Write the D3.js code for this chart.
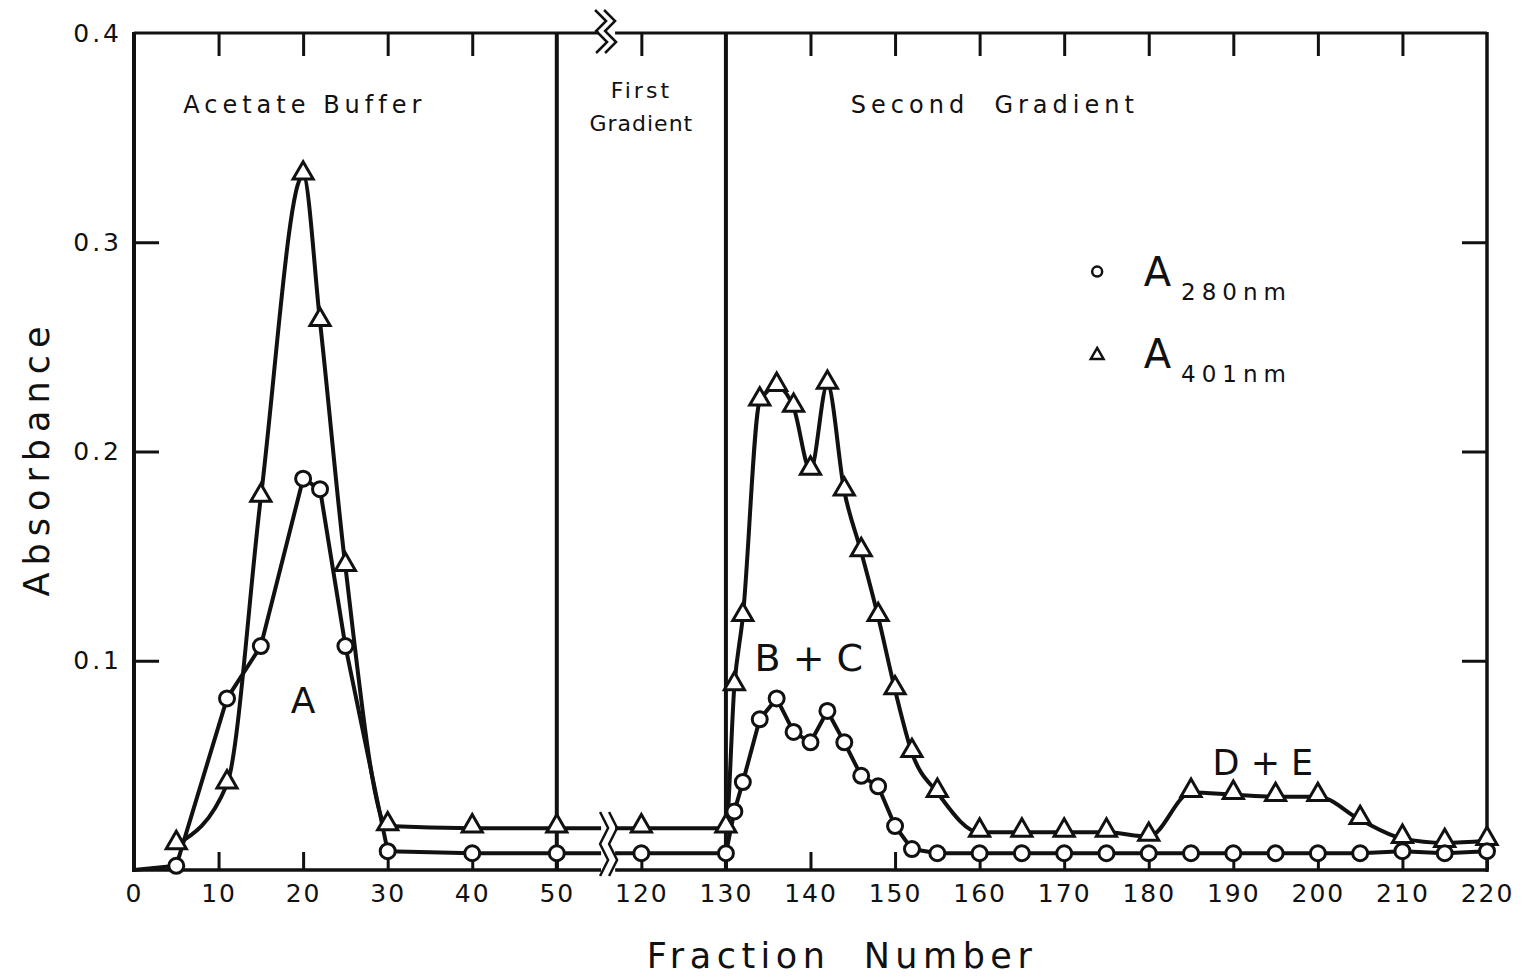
<!DOCTYPE html>
<html>
<head>
<meta charset="utf-8">
<script src="https://cdn.jsdelivr.net/npm/d3@7"></script>
<style>
  body { margin: 0; background: #fff; }
  text { font-family: "DejaVu Sans", sans-serif; fill: #111; }
</style>
</head>
<body>
<div id="viz"></div>
<script>
// elution profile: absorbance of each fraction

const xTickValues = [0, 10, 20, 30, 40, 50, 120, 130, 140, 150, 160, 170, 180, 190, 200, 210, 220];
const yTickValues = [0.1, 0.2, 0.3, 0.4];
const yTickLabels = ['0.1', '0.2', '0.3', '0.4'];

// A280 (circles) - first point is where the trace leaves the origin
const a280Fractions = [0, 5, 11, 15, 20, 22, 25, 30, 40, 50, 120, 130, 131, 132, 134, 136, 138, 140, 142, 144, 146, 148, 150, 152, 155, 160, 165, 170, 175, 180, 185, 190, 195, 200, 205, 210, 215, 220];
const a280Values = [0, 0.002, 0.082, 0.107, 0.187, 0.182, 0.107, 0.009, 0.008, 0.008, 0.008, 0.008, 0.028, 0.042, 0.072, 0.082, 0.066, 0.061, 0.076, 0.061, 0.045, 0.040, 0.021, 0.010, 0.008, 0.008, 0.008, 0.008, 0.008, 0.008, 0.008, 0.008, 0.008, 0.008, 0.008, 0.009, 0.008, 0.009];

// A401 (triangles)
const a401Fractions = [5, 11, 15, 20, 22, 25, 30, 40, 50, 120, 130, 131, 132, 134, 136, 138, 140, 142, 144, 146, 148, 150, 152, 155, 160, 165, 170, 175, 180, 185, 190, 195, 200, 205, 210, 215, 220];
const a401Values = [0.012, 0.041, 0.178, 0.332, 0.262, 0.145, 0.021, 0.020, 0.020, 0.020, 0.020, 0.088, 0.121, 0.224, 0.231, 0.221, 0.191, 0.232, 0.181, 0.152, 0.121, 0.086, 0.056, 0.037, 0.018, 0.018, 0.018, 0.018, 0.016, 0.037, 0.036, 0.035, 0.035, 0.024, 0.015, 0.013, 0.014];

const dividerFractions = [50, 130];
const peakNames = ['A', 'B + C', 'D + E'];

var dims = {
    width: 1533,
    height: 979,
    left: 134,
    right: 1487,
    top: 33,
    bottom: 870
};

const svg = d3.select('#viz').append('svg')
    .attr('width', dims.width)
    .attr('height', dims.height)
    .style('background', '#fff');

// broken axis: 50 -> 120 takes up one tick step
const x = d3.scaleLinear()
    .domain([0, 50, 120, 220])
    .range([dims.left, dims.left + 50 * 8.456, dims.left + 60 * 8.456, dims.right]);

const y = d3.scaleLinear()
    .domain([0, 0.4])
    .range([dims.bottom, dims.top]);

const breakX = (x(50) + x(120)) / 2 + 8;

const a280 = a280Fractions.map((f, i) => ({ f: f, v: a280Values[i] }));
const a401 = a401Fractions.map((f, i) => ({ f: f, v: a401Values[i] }));

// A280 drawn point to point, A401 smoothed like the hand-drawn trace
const line280 = d3.line()
    .x(d => x(d.f))
    .y(d => y(d.v));

const line401 = d3.line()
    .x(d => x(d.f))
    .y(d => y(d.v))
    .curve(d3.curveMonotoneX);

// frame, split at the axis break
const frame = svg.append('g').attr('stroke', '#111').attr('fill', 'none');
frame.append('line').attr('x1', dims.left).attr('x2', dims.left).attr('y1', dims.top - 1).attr('y2', dims.bottom + 2).attr('stroke-width', 4);
frame.append('line').attr('x1', dims.right).attr('x2', dims.right).attr('y1', dims.top - 1).attr('y2', dims.bottom + 2).attr('stroke-width', 3.5);
frame.append('line').attr('x1', dims.left).attr('x2', breakX - 8).attr('y1', dims.top).attr('y2', dims.top).attr('stroke-width', 3);
frame.append('line').attr('x1', breakX + 8).attr('x2', dims.right).attr('y1', dims.top).attr('y2', dims.top).attr('stroke-width', 3);
frame.append('line').attr('x1', dims.left).attr('x2', breakX - 6).attr('y1', dims.bottom).attr('y2', dims.bottom).attr('stroke-width', 3.5);
frame.append('line').attr('x1', breakX + 8).attr('x2', dims.right).attr('y1', dims.bottom).attr('y2', dims.bottom).attr('stroke-width', 3.5);

// solvent change lines
svg.selectAll('.divider')
    .data(dividerFractions)
    .enter()
    .append('line')
        .attr('x1', d => x(d)).attr('x2', d => x(d))
        .attr('y1', dims.top).attr('y2', dims.bottom)
        .attr('stroke', '#111')
        .attr('stroke-width', 4);

// axes with inward ticks
const xAxis = svg.append('g')
    .attr('transform', `translate(0,${dims.bottom})`)
    .call(d3.axisBottom(x).tickValues(xTickValues).tickSizeInner(-18).tickSizeOuter(0).tickPadding(14).tickFormat(d3.format('d')));

const xAxisTop = svg.append('g')
    .attr('transform', `translate(0,${dims.top})`)
    .call(d3.axisTop(x).tickValues(xTickValues.filter(d => d > 0 && d < 220 && d !== 50 && d !== 130)).tickSizeInner(-23).tickSizeOuter(0).tickFormat(''));

const yAxis = svg.append('g')
    .attr('transform', `translate(${dims.left},0)`)
    .call(d3.axisLeft(y).tickValues(yTickValues).tickSizeInner(-25).tickSizeOuter(0).tickPadding(12).tickFormat((d, i) => yTickLabels[i]));

const yAxisRight = svg.append('g')
    .attr('transform', `translate(${dims.right},0)`)
    .call(d3.axisRight(y).tickValues(yTickValues.slice(0, 3)).tickSizeInner(-25).tickSizeOuter(0).tickFormat(''));

[xAxis, xAxisTop, yAxis, yAxisRight].forEach(g => {
    g.select('.domain').remove();
    g.selectAll('.tick line').attr('stroke', '#111').attr('stroke-width', 3);
    g.selectAll('.tick text')
        .style('font-size', '25px')
        .style('letter-spacing', '2px')
        .attr('fill', '#111');
});
yAxis.selectAll('.tick text').style('letter-spacing', '3px');
yAxis.selectAll('.tick').filter(d => d === 0.4).select('line').remove();

// the two traces
svg.append('path')
    .datum(a401)
    .attr('d', line401)
    .attr('fill', 'none')
    .attr('stroke', '#111')
    .attr('stroke-width', 4);

svg.append('path')
    .datum(a280)
    .attr('d', line280)
    .attr('fill', 'none')
    .attr('stroke', '#111')
    .attr('stroke-width', 4)
    .attr('stroke-linejoin', 'round');

// break marks on the bottom traces / axis
svg.append('rect')
    .attr('x', breakX - 6).attr('y', 812)
    .attr('width', 14).attr('height', 64)
    .attr('fill', '#fff');

const zig = d3.line();
[-4, 5].forEach(dx => {
    svg.append('path')
        .attr('d', zig([[dx - 3, 812], [dx + 5, 828], [dx - 3, 844], [dx + 5, 860], [dx - 3, 876]].map(p => [breakX + p[0], p[1]])))
        .attr('fill', 'none').attr('stroke', '#111').attr('stroke-width', 2.5);
    svg.append('path')
        .attr('d', zig([[dx - 8, 10], [dx + 3, 21], [dx - 7, 31], [dx + 4, 42], [dx - 7, 53]].map(p => [breakX + p[0], p[1]])))
        .attr('fill', 'none').attr('stroke', '#111').attr('stroke-width', 2.5);
});

// markers
svg.selectAll('.tri')
    .data(a401)
    .enter()
    .append('path')
        .attr('d', d3.symbol(d3.symbolTriangle, 175))
        .attr('transform', d => `translate(${x(d.f)},${y(d.v) - 2})`)
        .attr('fill', '#fff')
        .attr('stroke', '#111')
        .attr('stroke-width', 3);

svg.selectAll('.dot')
    .data(a280.filter(d => d.f > 0))
    .enter()
    .append('circle')
        .attr('cx', d => x(d.f))
        .attr('cy', d => y(d.v))
        .attr('r', 7.5)
        .attr('fill', '#fff')
        .attr('stroke', '#111')
        .attr('stroke-width', 3);

// region labels
const regionText = (txt, f, v, size, spacing) => svg.append('text')
    .attr('x', x(f)).attr('y', y(v))
    .attr('text-anchor', 'middle')
    .style('font-size', size + 'px')
    .style('letter-spacing', spacing + 'px')
    .style('white-space', 'pre')
    .text(txt);

regionText('Acetate Buffer', 20.2, 0.362, 24, 5);
regionText('First', 120, 0.369, 22, 3);
regionText('Gradient', 120, 0.353, 22, 1);
regionText('Second  Gradient', 161.8, 0.362, 24, 5);

// peak names
regionText(peakNames[0], 20, 0.075, 36, 0);
regionText(peakNames[1], 139.8, 0.095, 38, 0);
regionText(peakNames[2], 193.5, 0.0455, 35, 0);

// legend
const legend = svg.append('g');
legend.append('circle')
    .attr('cx', x(173.9)).attr('cy', y(0.286))
    .attr('r', 5).attr('fill', '#fff').attr('stroke', '#111').attr('stroke-width', 2.5);
legend.append('path')
    .attr('d', d3.symbol(d3.symbolTriangle, 70))
    .attr('transform', `translate(${x(173.9)},${y(0.246)})`)
    .attr('fill', '#fff').attr('stroke', '#111').attr('stroke-width', 2.5);

[['280nm', 0.279], ['401nm', 0.240]].forEach(([sub, v]) => {
    const t = legend.append('text')
        .attr('x', x(179.4)).attr('y', y(v))
        .style('font-size', '40px');
    t.append('tspan').text('A');
    t.append('tspan')
        .attr('dy', 14)
        .attr('dx', 10)
        .style('font-size', '23px')
        .style('letter-spacing', '6px')
        .text(sub);
});

// axis titles
svg.append('text')
    .attr('x', 842).attr('y', 968)
    .attr('text-anchor', 'middle')
    .style('font-size', '35px')
    .style('letter-spacing', '5.5px')
    .style('white-space', 'pre')
    .text('Fraction  Number');

svg.append('text')
    .attr('transform', 'translate(49,458) rotate(-90)')
    .attr('text-anchor', 'middle')
    .style('font-size', '35px')
    .style('letter-spacing', '7px')
    .text('Absorbance');
</script>
</body>
</html>
